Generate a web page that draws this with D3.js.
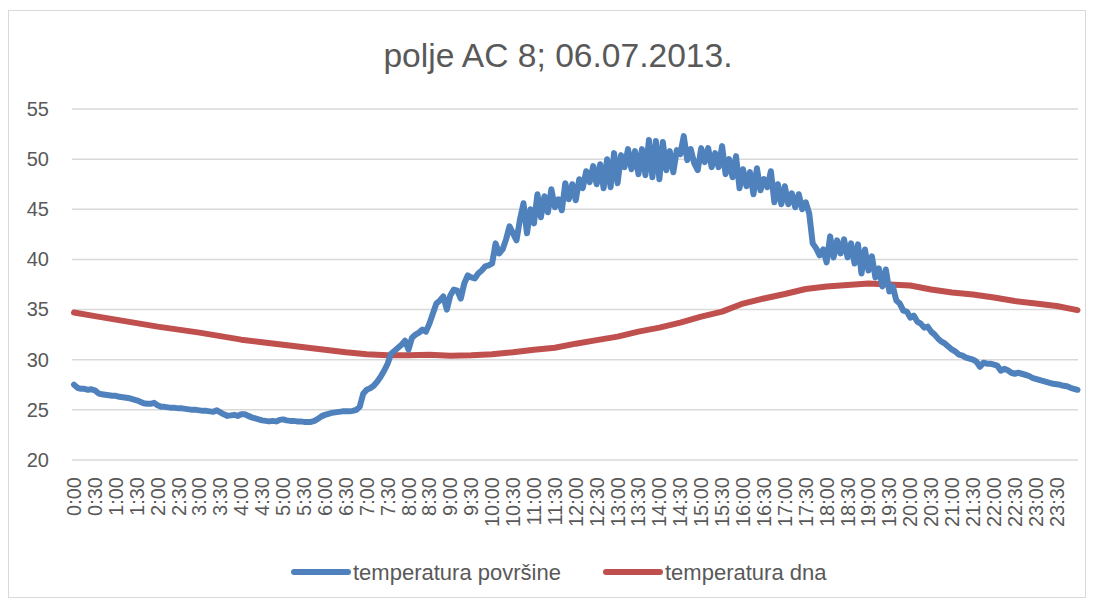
<!DOCTYPE html>
<html>
<head>
<meta charset="utf-8">
<script src="https://cdn.jsdelivr.net/npm/d3@7"></script>
<style>
  html, body { margin: 0; padding: 0; background: #fff; }
  svg text { font-family: "Liberation Sans", Arial, sans-serif; fill: #595959; }
</style>
</head>
<body>
<svg id="chart" width="1095" height="603"></svg>
<script>
// Sampling interval of the logger, in minutes (one reading every 5 minutes from 0:00 to 24:00)
const surfaceStep = 5;
// Surface temperature (°C), 0:00 … 24:00
const surfaceTemp = [
  27.5, 27.2, 27.1, 27.1, 27.0, 27.05, 26.95, 26.65, 26.55, 26.5, 26.45, 26.4,
  26.4, 26.3, 26.25, 26.2, 26.15, 26.05, 25.95, 25.8, 25.65, 25.6, 25.6, 25.7,
  25.45, 25.3, 25.3, 25.25, 25.2, 25.2, 25.15, 25.15, 25.1, 25.05, 25.0, 25.0,
  24.95, 24.9, 24.9, 24.85, 24.8, 24.95, 24.75, 24.55, 24.4, 24.45, 24.5, 24.4,
  24.55, 24.55, 24.4, 24.25, 24.15, 24.05, 23.95, 23.9, 23.85, 23.9, 23.85, 24.0,
  24.05, 23.95, 23.9, 23.9, 23.85, 23.85, 23.8, 23.8, 23.8, 23.9, 24.1, 24.35,
  24.5, 24.6, 24.7, 24.75, 24.8, 24.85, 24.85, 24.85, 24.9, 25.0, 25.3, 26.6,
  27.0, 27.15, 27.4, 27.8, 28.3, 28.9, 29.6, 30.6, 30.9, 31.2, 31.5, 31.9,
  31.0, 32.2, 32.5, 32.7, 33.0, 32.8, 33.6, 34.6, 35.6, 35.9, 36.3, 35.0,
  36.4, 37.0, 36.9, 36.1, 37.6, 38.4, 38.2, 38.1, 38.6, 38.9, 39.3, 39.4,
  39.6, 41.6, 40.6, 41.0, 42.0, 43.3, 42.6, 41.9, 44.0, 45.6, 42.6, 45.0,
  43.6, 46.5, 44.2, 46.3, 44.7, 47.0, 45.2, 46.0, 44.9, 47.6, 46.0, 47.5,
  45.9, 48.0, 47.1, 48.8, 47.7, 49.3, 47.5, 49.5, 47.1, 50.0, 47.2, 50.6,
  47.6, 50.4, 49.2, 51.0, 49.0, 50.8, 48.5, 51.0, 48.4, 51.9, 48.2, 51.8,
  48.0, 51.7, 48.9, 50.8, 48.7, 50.9, 50.5, 52.3, 49.9, 51.0, 49.6, 48.9,
  51.1, 49.7, 51.1, 49.2, 50.6, 49.2, 51.3, 48.5, 50.0, 48.2, 50.3, 47.1,
  49.0, 47.3, 48.7, 46.5, 49.1, 46.9, 48.0, 47.2, 48.8, 45.7, 47.5, 45.5,
  47.3, 45.5, 46.6, 45.2, 46.5, 45.0, 45.7, 44.6, 41.6, 41.1, 40.4, 41.0,
  39.7, 42.3, 40.2, 41.9, 40.6, 42.0, 40.2, 41.6, 39.6, 41.5, 38.6, 41.0,
  38.9, 40.3, 38.2, 39.1, 37.3, 39.0, 36.8, 37.3, 35.9, 35.6, 34.9, 34.8,
  34.2, 34.4, 33.8, 33.6, 33.2, 33.3, 32.8, 32.5, 32.1, 31.8, 31.6, 31.3,
  31.0, 30.8, 30.5, 30.4, 30.2, 30.1, 30.0, 29.8, 29.3, 29.7, 29.6, 29.6,
  29.5, 29.4, 28.9, 29.1, 28.95, 28.7, 28.6, 28.7, 28.6, 28.5, 28.4, 28.2,
  28.1, 28.0, 27.9, 27.8, 27.7, 27.6, 27.55, 27.5, 27.4, 27.35, 27.2, 27.1,
  27.0
];

// Bottom temperature (°C), one reading every 30 minutes from 0:00 to 24:00
const bottomStep = 30;
const bottomTemp = [
  34.7, 34.35, 34.0, 33.65, 33.3, 33.0, 32.7, 32.35, 32.0, 31.75, 31.5, 31.25,
  31.0, 30.75, 30.55, 30.45, 30.45, 30.5, 30.4, 30.45, 30.55, 30.75, 31.0, 31.2,
  31.6, 31.95, 32.3, 32.8, 33.2, 33.7, 34.3, 34.8, 35.6, 36.1, 36.55, 37.05,
  37.3, 37.45, 37.6, 37.5, 37.4, 37.0, 36.7, 36.5, 36.2, 35.85, 35.6, 35.35,
  34.95
];

// Category labels on the time axis (every half hour)
const timeLabels = [
  "0:00", "0:30", "1:00", "1:30", "2:00", "2:30", "3:00", "3:30", "4:00", "4:30",
  "5:00", "5:30", "6:00", "6:30", "7:00", "7:30", "8:00", "8:30", "9:00", "9:30",
  "10:00", "10:30", "11:00", "11:30", "12:00", "12:30", "13:00", "13:30", "14:00", "14:30",
  "15:00", "15:30", "16:00", "16:30", "17:00", "17:30", "18:00", "18:30", "19:00", "19:30",
  "20:00", "20:30", "21:00", "21:30", "22:00", "22:30", "23:00", "23:30"
];
const labelStep = 30;

const yTicks = [20, 25, 30, 35, 40, 45, 50, 55];
const seriesNames = ["temperatura površine", "temperatura dna"];
const seriesColors = ["#4f81bd", "#c0504d"];
const chartTitle = "polje AC 8; 06.07.2013.";

const svg = d3.select("#chart");

// Chart frame
svg.append("rect")
  .attr("x", 8.5).attr("y", 10.5)
  .attr("width", 1077).attr("height", 587)
  .attr("fill", "#fff").attr("stroke", "#d9d9d9").attr("stroke-width", 1);

const plot = { left: 72, right: 1078, top: 109, bottom: 460 };

const x = d3.scaleLinear().domain([0, 1440]).range([74, 1077.5]);
const y = d3.scaleLinear().domain([20, 55]).range([plot.bottom, plot.top]);

// Horizontal gridlines
svg.append("g")
  .selectAll("line")
  .data(yTicks)
  .join("line")
  .attr("x1", plot.left).attr("x2", plot.right)
  .attr("y1", d => y(d)).attr("y2", d => y(d))
  .attr("stroke", "#d9d9d9").attr("stroke-width", 1.5);

// Value axis labels
const yAxis = d3.axisLeft(y).tickValues(yTicks).tickSize(0).tickPadding(0);
const yg = svg.append("g").attr("transform", `translate(49,0)`).call(yAxis);
yg.select(".domain").remove();
yg.selectAll("text")
  .attr("font-size", 20)
  .attr("fill", "#595959")
  .style("font-family", '"Liberation Sans", Arial, sans-serif');

// Time axis labels, rotated
const xg = svg.append("g");
xg.selectAll("text")
  .data(timeLabels)
  .join("text")
  .attr("transform", (d, i) => `translate(${x(i * labelStep)},477) rotate(-90)`)
  .attr("text-anchor", "end")
  .attr("dy", "0.35em")
  .attr("font-size", 20)
  .text(d => d);

// Series lines
const line = d3.line()
  .x(d => x(d.t))
  .y(d => y(d.v));

const bottomData = bottomTemp.map((v, i) => ({ t: i * bottomStep, v }));
const surfaceData = surfaceTemp.map((v, i) => ({ t: i * surfaceStep, v }));

svg.append("path")
  .datum(bottomData)
  .attr("d", line)
  .attr("fill", "none")
  .attr("stroke", seriesColors[1])
  .attr("stroke-width", 6)
  .attr("stroke-linejoin", "round")
  .attr("stroke-linecap", "round");

svg.append("path")
  .datum(surfaceData)
  .attr("d", line)
  .attr("fill", "none")
  .attr("stroke", seriesColors[0])
  .attr("stroke-width", 6)
  .attr("stroke-linejoin", "round")
  .attr("stroke-linecap", "round");

// Title
svg.append("text")
  .attr("x", 558).attr("y", 67)
  .attr("text-anchor", "middle")
  .attr("font-size", 33.6)
  .text(chartTitle);

// Legend
const legendItems = [
  { name: seriesNames[0], color: seriesColors[0], x1: 294, x2: 348, tx: 353 },
  { name: seriesNames[1], color: seriesColors[1], x1: 606, x2: 660, tx: 665 }
];
const lg = svg.append("g");
legendItems.forEach(it => {
  lg.append("line")
    .attr("x1", it.x1).attr("x2", it.x2)
    .attr("y1", 572).attr("y2", 572)
    .attr("stroke", it.color).attr("stroke-width", 6)
    .attr("stroke-linecap", "round");
  lg.append("text")
    .attr("x", it.tx).attr("y", 572)
    .attr("dy", "0.35em")
    .attr("font-size", 22)
    .text(it.name);
});
</script>
</body>
</html>
